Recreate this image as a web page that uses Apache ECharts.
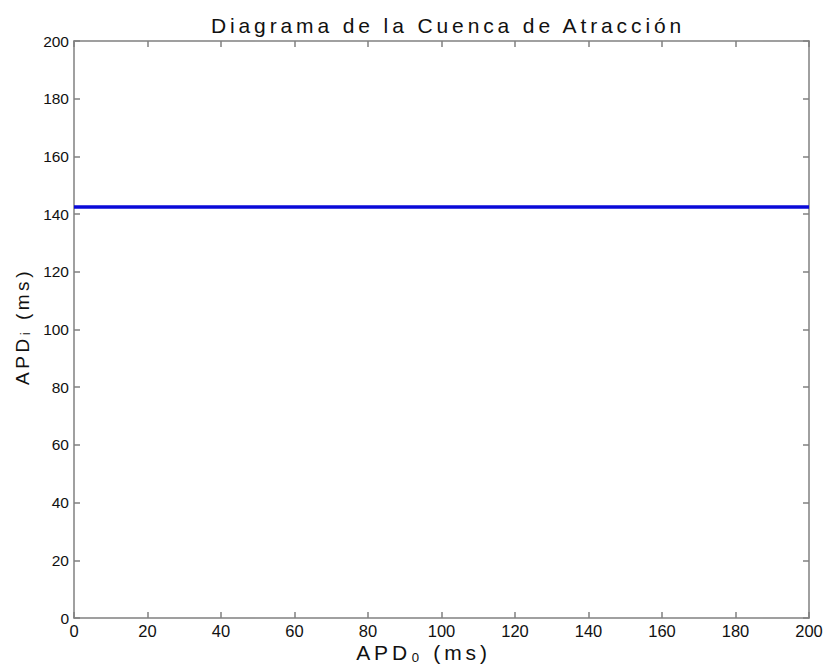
<!DOCTYPE html>
<html><head><meta charset="utf-8">
<script src="https://cdn.jsdelivr.net/npm/echarts@6/dist/echarts.min.js"></script>
<style>html,body{margin:0;padding:0;background:#fff}#c{width:824px;height:670px}
#c text[style*="21px"], #c text[style*="19px"]{letter-spacing:0.185em}</style>
</head><body><div id="c"></div>
<script>
const titleText = 'Diagrama de la Cuenca de Atracción';
const xName = 'APD\u2080 (ms)';
const yName = 'APD\u1D62 (ms)';
const xValues = [0, 200];
const yValues = [142.5, 142.5];
const xTicks = [0,20,40,60,80,100,120,140,160,180,200];
const yTicks = [0,20,40,60,80,100,120,140,160,180,200];

const chart = echarts.init(document.getElementById('c'), null, {renderer:'svg'});
const font = 'Liberation Sans';
const axisCommon = {
  min: 0, max: 200, interval: 20,
  axisLine: {show: true, onZero: false, lineStyle: {color: '#808080', width: 1.5}},
  axisTick: {show: true, inside: true, length: 6, lineStyle: {color: '#808080', width: 1.5}},
  splitLine: {show: false}
};
chart.setOption({
  animation: false,
  backgroundColor: '#fff',
  title: {text: titleText, left: 443, textAlign: 'center', top: 10,
    textStyle: {fontFamily: font, fontSize: 21, fontWeight: 'normal', color: '#111'}},
  grid: {left: 74, right: 15, top: 41, bottom: 52, containLabel: false, outerBoundsMode: 'none'},
  xAxis: [
    Object.assign({type: 'value', position: 'bottom',
      name: xName, nameLocation: 'middle', nameGap: 24, nameMoveOverlap: false,
      nameTextStyle: {fontFamily: font, fontSize: 21, color: '#111', padding: [0, 36, 0, 0]},
      axisLabel: {fontFamily: font, fontSize: 16.5, color: '#111', margin: 4,
        formatter: v => xTicks.includes(v) ? String(v) : ''}
    }, axisCommon),
    Object.assign({type: 'value', position: 'top', axisLabel: {show: false}}, axisCommon)
  ],
  yAxis: [
    Object.assign({type: 'value', position: 'left',
      name: yName, nameLocation: 'middle', nameGap: 42, nameRotate: 90, nameMoveOverlap: false,
      nameTextStyle: {fontFamily: font, fontSize: 19, color: '#111', padding: [0, 0, 0, 6]},
      axisLabel: {fontFamily: font, fontSize: 15.5, color: '#111', margin: 5,
        formatter: v => yTicks.includes(v) ? String(v) : ''}
    }, axisCommon),
    Object.assign({type: 'value', position: 'right', axisLabel: {show: false}}, axisCommon)
  ],
  series: [{
    type: 'line', showSymbol: false, symbol: 'none',
    data: xValues.map((x, i) => [x, yValues[i]]),
    lineStyle: {color: '#0a0ad8', width: 3.5}
  }]
});
</script></body></html>
